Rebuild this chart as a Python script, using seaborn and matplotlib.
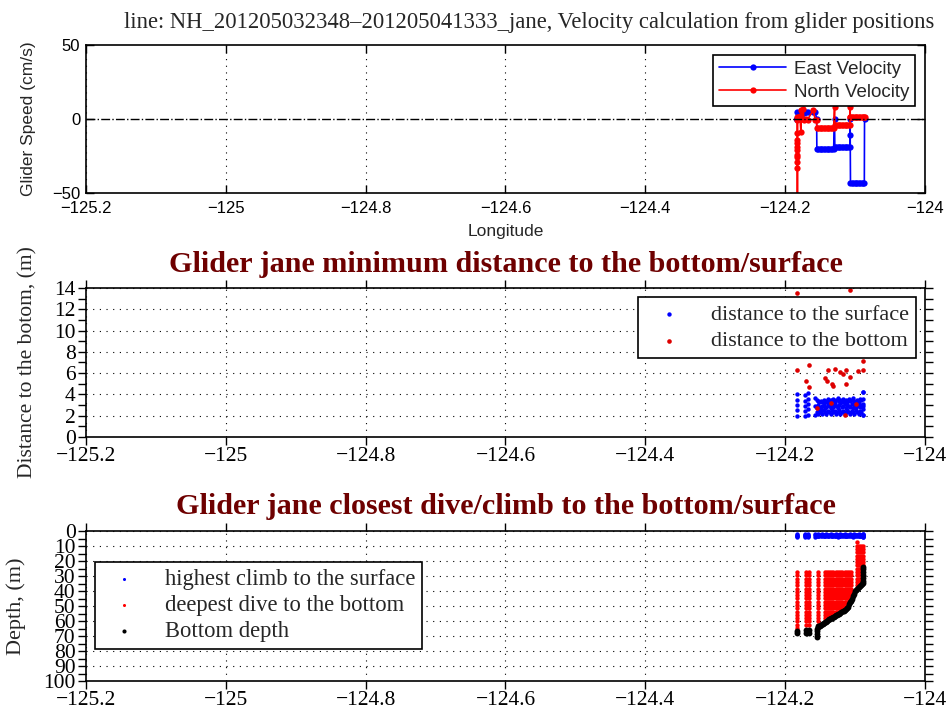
import matplotlib
matplotlib.use("Agg")
import matplotlib.pyplot as plt
from matplotlib.ticker import MultipleLocator
import pandas as pd
import seaborn as sns

SERIF = "Liberation Serif"
SANS = "Liberation Sans"
DARK_RED = "#6e0000"
DOTTED = (0, (1, 5))

# ---------------- data ----------------
lon_ticks = [-125.2, -125.0, -124.8, -124.6, -124.4, -124.2, -124.0]
lon_tick_labels = ["−125.2", "−125", "−124.8", "−124.6", "−124.4", "−124.2", "−124"]

# panel 1: velocity from glider positions (time order)
vel_lon = [
    -124.1825, -124.1825, -124.1825, -124.1825, -124.1825, -124.1825,
    -124.1825, -124.1825, -124.1825, -124.1825, -124.1825, -124.1825,
    -124.1790, -124.1775, -124.1770, -124.1760, -124.1745, -124.1730,
    -124.1700, -124.1680, -124.1600, -124.1570, -124.1550,
    -124.1547, -124.1527, -124.1507, -124.1487, -124.1467, -124.1447,
    -124.1427, -124.1407, -124.1387, -124.1367, -124.1347, -124.1327, -124.1307,
    -124.1294,
    -124.1290, -124.1270, -124.1250, -124.1230, -124.1210, -124.1190,
    -124.1170, -124.1150, -124.1130, -124.1110, -124.1090, -124.1074,
    -124.1070, -124.1070,
    -124.1066, -124.1046, -124.1026, -124.1006, -124.0986, -124.0966,
    -124.0946, -124.0926, -124.0906, -124.0886, -124.0868,
    -124.0865,
]
vel_east = [
    4.5, 0, 0, 0, 0, 0, 0, 0, 0, 0, 0, 0,
    4.5, 3, 4.5, 4.5, 5, 4, 5, 4.5, 5, 4.5, 0,
    -20, -20, -20, -20, -20, -20, -20, -20, -20, -20, -20, -20, -20,
    0,
    -19, -19, -19, -19, -19, -19, -19, -19, -19, -19, -19, -19,
    0, -11,
    -43, -43, -43, -43, -43, -43, -43, -43, -43, -43, -43,
    0,
]
vel_north = [
    1.5, -60, -33, -29, -26, -24, -21, -19, -16, -14, -9.5, -0.7,
    2, -9, 6, 0, 7, -0.5, 0, -0.5, 6, -0.5, -0.7,
    -6, -6, -6, -6, -6, -6, -6, -6, -6, -6, -6, -6, -6,
    8,
    -4, -4, -4, -4, -4, -4, -4, -4, -4, -4, -4, -4,
    8, 1.5,
    1.5, 1.5, 1.5, 1.5, 1.5, 1.5, 1.5, 1.5, 1.5, 1.5, 1.5,
    1.5,
]

# panel 2/3: highest climb (distance to the surface), shared
surf_cluster_lon = [-124.1833, -124.1712, -124.1672, -124.0880]
surf_cluster_vals = [
    [2.0, 2.5, 3.0, 3.5, 4.0],
    [2.0, 2.4, 2.9, 3.4, 3.9],
    [2.1, 2.6, 3.1, 3.6, 4.1],
    [2.1, 2.6, 3.1, 3.6, 4.2],
]
band_lon = [
    -124.1570, -124.1550, -124.1530, -124.1510, -124.1490, -124.1470, -124.1450,
    -124.1430, -124.1410, -124.1390, -124.1370, -124.1350, -124.1330, -124.1310,
    -124.1290, -124.1270, -124.1250, -124.1230, -124.1210, -124.1190, -124.1170,
    -124.1150, -124.1130, -124.1110, -124.1090, -124.1070, -124.1050, -124.1030,
    -124.1010, -124.0990, -124.0970, -124.0950, -124.0930, -124.0910, -124.0890,
]
band_low = [2.1, 2.3, 2.2, 2.4, 2.3, 2.2, 2.5, 2.3, 2.2, 2.4, 2.3, 2.2, 2.5, 2.3,
            2.4, 2.2, 2.3, 2.5, 2.2, 2.3, 2.4, 2.2, 2.3, 2.5, 2.3, 2.2, 2.4, 2.3,
            2.2, 2.5, 2.3, 2.2, 2.4, 2.3, 2.1]
band_mid = [2.9, 2.7, 3.0, 2.8, 2.6, 2.9, 3.0, 2.7, 2.8, 3.1, 2.9, 2.7, 3.0, 2.8,
            3.1, 2.9, 2.7, 3.0, 3.2, 2.8, 2.9, 3.1, 2.7, 3.0, 2.9, 2.8, 3.1, 2.7,
            3.0, 2.8, 2.9, 3.1, 2.8, 3.0, 2.9]
band_high = [3.7, 3.5, 3.4, 3.3, 3.4, 3.3, 3.5, 3.3, 3.4, 3.6, 3.3, 3.5, 3.4, 3.6,
             3.3, 3.5, 3.7, 3.4, 3.5, 3.3, 3.6, 3.4, 3.5, 3.3, 3.6, 3.4, 3.5, 3.7,
             3.4, 3.3, 3.5, 3.4, 3.6, 3.5, 4.2]

# panel 2: distance to the bottom
botdist_lon = [-124.1830, -124.1075, -124.1657, -124.1830, -124.1381, -124.1285,
               -124.1213, -124.1166, -124.1127, -124.0952, -124.0890, -124.0880,
               -124.1704, -124.1657, -124.1428, -124.1395, -124.1332, -124.1318,
               -124.1127, -124.1070, -124.1345, -124.1140, -124.1550, -124.0985]
botdist_val = [13.5, 13.8, 6.8, 6.3, 6.3, 6.4, 6.1, 5.9, 6.3, 6.2, 6.3, 7.1,
               5.3, 4.7, 5.5, 5.3, 5.0, 4.8, 5.0, 5.6, 3.2, 2.1, 2.7, 3.1]

# panel 3: deepest dive columns (levels kept between top and bottom of each column)
dive_levels = [7.5, 9.7, 11.9, 14.1, 16.3, 18.5, 20.7, 22.9, 25.1, 27.3, 29.5,
               31.7, 33.9, 36.1, 38.3, 40.5, 42.7, 44.9, 47.1, 49.3, 51.5, 53.7,
               55.9, 58.1, 60.3, 62.5, 64.7]
dive_col_lon = [-124.1825, -124.1704, -124.1657, -124.1524,
                -124.1437, -124.1405, -124.1373, -124.1341, -124.1309, -124.1277,
                -124.1245, -124.1213, -124.1181, -124.1149, -124.1117, -124.1085,
                -124.1053, -124.0975, -124.0950, -124.0910, -124.0882]
dive_col_top = [27.3, 27.3, 27.3, 27.3,
                27.3, 27.3, 27.3, 27.3, 27.3, 27.3, 27.3, 27.3, 27.3, 27.3,
                27.3, 27.3, 27.3, 7.5, 9.7, 9.7, 9.7]
dive_col_bottom = [64.7, 62.5, 62.5, 62.5,
                   58.1, 58.1, 55.9, 55.9, 55.9, 53.7, 53.7, 51.5, 51.5, 49.3,
                   49.3, 47.1, 44.9, 36.1, 36.1, 33.9, 22.9]

# panel 3: bottom depth
bottom_lon = [
    -124.1825, -124.1825, -124.1704, -124.1704, -124.1660, -124.1660,
    -124.1547, -124.1547, -124.1547, -124.1540, -124.1533, -124.1525, -124.1515,
    -124.1505, -124.1493, -124.1480, -124.1465, -124.1450, -124.1435, -124.1420,
    -124.1405, -124.1390, -124.1375, -124.1360, -124.1345, -124.1330, -124.1315,
    -124.1300, -124.1285, -124.1270, -124.1255, -124.1240, -124.1225, -124.1210,
    -124.1195, -124.1180, -124.1165, -124.1150, -124.1135, -124.1120, -124.1105,
    -124.1090, -124.1075, -124.1060, -124.1045, -124.1030, -124.1015, -124.1000,
    -124.0985, -124.0970, -124.0955, -124.0940, -124.0925, -124.0910, -124.0897,
    -124.0885, -124.0880, -124.0880, -124.0880, -124.0880, -124.0880, -124.0880,
]
bottom_depth = [
    66.5, 68.0, 66.0, 68.0, 66.0, 68.0,
    70.4, 68.5, 66.5, 65.0, 64.0, 63.5, 63.2,
    63.0, 62.7, 62.2, 61.8, 61.5, 60.9, 60.4,
    59.9, 59.4, 58.9, 58.5, 58.2, 58.0, 57.5,
    57.0, 56.6, 56.2, 55.7, 55.3, 55.0, 54.6,
    54.0, 53.5, 53.0, 52.4, 51.9, 51.5, 50.4,
    48.9, 47.5, 46.4, 45.3, 43.4, 41.7, 40.2,
    39.2, 38.4, 37.7, 37.0, 36.5, 35.9, 35.3,
    34.9, 33.0, 31.0, 29.0, 27.0, 25.0, 24.0,
]

# ---------------- tables ----------------
surf_lon, surf_val = [], []
for lon, vals in zip(surf_cluster_lon, surf_cluster_vals):
    surf_lon += [lon] * len(vals)
    surf_val += vals
for row in (band_low, band_mid, band_high):
    surf_lon += band_lon
    surf_val += row
surf = pd.DataFrame({"lon": surf_lon, "val": surf_val})

dive_lon, dive_depth = [], []
for lon, top, bot in zip(dive_col_lon, dive_col_top, dive_col_bottom):
    levels = [d for d in dive_levels if top <= d <= bot]
    dive_lon += [lon] * len(levels)
    dive_depth += levels
dives = pd.DataFrame({"lon": dive_lon, "depth": dive_depth})

# ---------------- figure ----------------
sns.set_style("ticks")
fig = plt.figure(figsize=(9.5, 7.14), dpi=100)


def base_axis(ax, family, size, direction, pad):
    ax.set_xlim(-125.2, -124.0)
    ax.set_xticks(lon_ticks)
    ax.set_xticklabels(lon_tick_labels)
    ax.tick_params(which="both", direction=direction, top=True, right=True,
                   labeltop=False, labelright=False, length=6, width=1,
                   color="k", labelcolor="k", labelsize=size,
                   labelfontfamily=family, pad=pad)
    for sp in ax.spines.values():
        sp.set_visible(True)
        sp.set_color("k")
        sp.set_linewidth(1.2)


def box_legend(ax, anchor, loc, prop, **kw):
    leg = ax.legend(loc=loc, bbox_to_anchor=anchor, prop=prop, frameon=True,
                    fancybox=False, edgecolor="k", framealpha=1,
                    borderaxespad=0, **kw)
    leg.get_frame().set_linewidth(1.2)
    return leg


# --- panel 1: velocity ---
ax1 = fig.add_axes([0.0905, 0.7297, 0.8832, 0.2073])
base_axis(ax1, SANS, 12, "in", 5.5)
ax1.set_ylim(-50, 50)
ax1.set_yticks([-50, 0, 50])
ax1.set_yticklabels(["−50", "0", "50"])
ax1.tick_params(axis="y", pad=4.2)
ax1.grid(True, axis="x", color="k", linestyle=DOTTED, linewidth=0.8)
sns.lineplot(x=vel_lon, y=vel_east, ax=ax1, sort=False, estimator=None,
             color="#0000ff", marker="o", markersize=4.5, markeredgewidth=0,
             linewidth=1.2, label="East Velocity")
sns.lineplot(x=vel_lon, y=vel_north, ax=ax1, sort=False, estimator=None,
             color="#ff0000", marker="o", markersize=4.5, markeredgewidth=0,
             linewidth=1.2, label="North Velocity")
ax1.axhline(0, color="k", linestyle="-.", linewidth=1, zorder=3)
ax1.set_xlabel("Longitude", fontfamily=SANS, fontsize=12.5)
ax1.xaxis.set_label_coords(0.5, -0.21)
ax1.set_ylabel("Glider Speed (cm/s)", fontfamily=SANS, fontsize=12.5)
ax1.yaxis.set_label_coords(-0.0596, 0.5)
box_legend(ax1, (0.988, 0.932), "upper right", {"family": SANS, "size": 13.5},
           handlelength=3.6, handletextpad=0.4, borderpad=0.3, labelspacing=0.3)
fig.text(0.557, 0.961,
         "line: NH_201205032348–201205041333_jane, Velocity calculation from glider positions",
         ha="center", va="baseline", fontfamily=SERIF, fontsize=16.3)

# --- panel 2: minimum distance ---
ax2 = fig.add_axes([0.0905, 0.388, 0.8832, 0.2087])
base_axis(ax2, SERIF, 15.5, "out", 1.5)
ax2.set_ylim(0, 14)
ax2.set_yticks(range(0, 15, 2))
ax2.yaxis.set_minor_locator(MultipleLocator(1))
ax2.grid(True, which="major", color="k", linestyle=DOTTED, linewidth=0.8)
sns.scatterplot(data=surf, x="lon", y="val", ax=ax2, color="#0000ff", s=10,
                linewidth=0, label="distance to the surface")
sns.scatterplot(x=botdist_lon, y=botdist_val, ax=ax2, color="#dd0000", s=11,
                linewidth=0, label="distance to the bottom")
ax2.set_xlabel("")
ax2.set_ylabel("Distance to the botom, (m)", fontfamily=SERIF, fontsize=15.5)
ax2.yaxis.set_label_coords(-0.0572, 0.5)
ax2.set_title("Glider jane minimum distance to the bottom/surface",
              fontfamily=SERIF, fontweight="bold", fontsize=21.7, color=DARK_RED,
              y=1.107, pad=0)
box_legend(ax2, (0.989, 0.936), "upper right", {"family": SERIF, "size": 16},
           handlelength=2.2, handletextpad=0.8, borderpad=0.3, labelspacing=0.28)

# --- panel 3: closest dive/climb ---
ax3 = fig.add_axes([0.0905, 0.0462, 0.8832, 0.21])
base_axis(ax3, SERIF, 15.5, "out", 1.5)
ax3.set_ylim(100, 0)
ax3.set_yticks(range(0, 101, 10))
ax3.yaxis.set_minor_locator(MultipleLocator(5))
ax3.grid(True, which="major", color="k", linestyle=DOTTED, linewidth=0.8)
sns.scatterplot(data=surf, x="lon", y="val", ax=ax3, color="#0000ff", s=10,
                linewidth=0, label="highest climb to the surface")
sns.scatterplot(data=dives, x="lon", y="depth", ax=ax3, color="#ff0000", s=10,
                linewidth=0, label="deepest dive to the bottom")
sns.scatterplot(x=bottom_lon, y=bottom_depth, ax=ax3, color="k", s=18,
                linewidth=0, label="Bottom depth")
ax3.set_xlabel("")
ax3.set_ylabel("Depth, (m)", fontfamily=SERIF, fontsize=16)
ax3.yaxis.set_label_coords(-0.0715, 0.5)
ax3.set_title("Glider jane closest dive/climb to the bottom/surface",
              fontfamily=SERIF, fontweight="bold", fontsize=21.7, color=DARK_RED,
              y=1.113, pad=0)
box_legend(ax3, (0.0107, 0.793), "upper left", {"family": SERIF, "size": 16.3},
           handlelength=2.0, handletextpad=0.8, borderpad=0.3, labelspacing=0.22,
           markerscale=0.7)

fig.savefig("out.png", dpi=100)
